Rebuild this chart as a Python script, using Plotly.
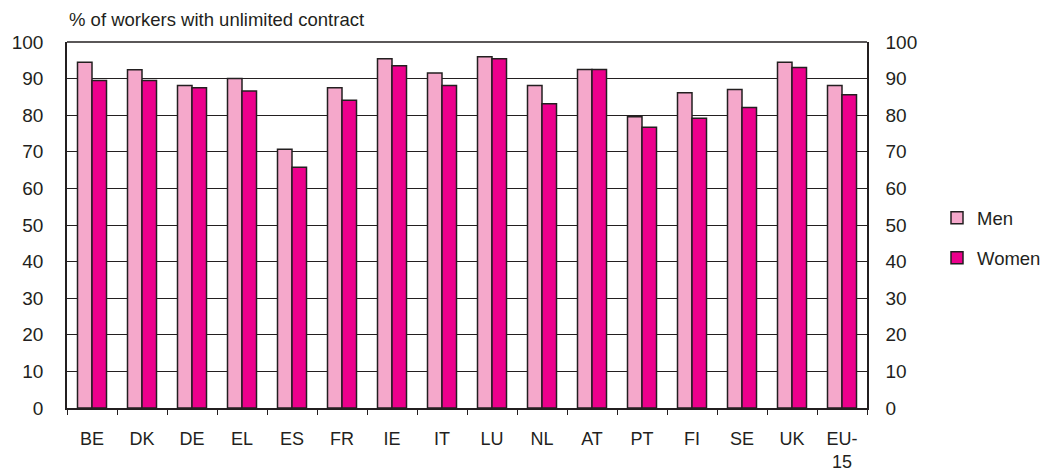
import plotly.graph_objects as go

categories = ["BE", "DK", "DE", "EL", "ES", "FR", "IE", "IT", "LU", "NL", "AT", "PT", "FI", "SE", "UK", "EU-<br>15"]
men = [94.5, 92.4, 88.1, 90.0, 70.7, 87.5, 95.4, 91.5, 96.0, 88.1, 92.5, 79.6, 86.1, 87.0, 94.5, 88.1]
women = [89.5, 89.5, 87.5, 86.6, 65.8, 84.1, 93.5, 88.1, 95.4, 83.1, 92.5, 76.7, 79.2, 82.1, 93.0, 85.6]
y_ticks = list(range(0, 101, 10))

FONT = "Liberation Sans, Arial, sans-serif"
DARK = "#231f20"

fig = go.Figure()
fig.add_trace(go.Bar(x=categories, y=men, name="Men", legendgroup="m",
                     marker=dict(color="#f5a8cb", line=dict(color=DARK, width=1.5))))
fig.add_trace(go.Bar(x=categories, y=women, name="Women", legendgroup="w",
                     marker=dict(color="#ec008c", line=dict(color=DARK, width=1.5))))
# invisible helper trace to draw the right-hand axis
fig.add_trace(go.Scatter(x=categories, y=men, yaxis="y2", mode="markers",
                         marker=dict(opacity=0, size=1), showlegend=False, hoverinfo="skip"))

# page body has an 8px default margin, so the figure is 8px smaller and offset
fig.update_layout(
    width=1040, height=466,
    margin=dict(l=59, r=181, t=34, b=66, autoexpand=False),
    paper_bgcolor="white", plot_bgcolor="white",
    font=dict(family=FONT, color=DARK),
    barmode="group", bargap=0.42, bargroupgap=0.0,
    showlegend=True,
    legend=dict(x=1.0875, y=0.464, xanchor="left", yanchor="middle",
                font=dict(size=18.5, family=FONT, color=DARK),
                tracegroupgap=13, bgcolor="rgba(0,0,0,0)"),
    xaxis=dict(type="category", range=[-0.5, 15.5], showline=True, linecolor=DARK, linewidth=2,
               ticks="outside", tickson="boundaries", ticklen=5, tickcolor=DARK, tickwidth=1.3,
               tickfont=dict(size=18, family=FONT, color=DARK), ticklabelstandoff=13,
               showgrid=False, mirror=False, automargin=False, fixedrange=True),
    yaxis=dict(range=[0, 100], tickvals=y_ticks, showgrid=True, gridcolor=DARK, gridwidth=1.4,
               showline=True, linecolor=DARK, linewidth=1.5, ticks="",
               tickfont=dict(size=19, family=FONT, color=DARK), ticklabelstandoff=18,
               zeroline=False, fixedrange=True, automargin=False),
    yaxis2=dict(range=[0, 100], tickvals=y_ticks, overlaying="y", side="right",
                showgrid=False, showline=True, linecolor=DARK, linewidth=1.5,
                ticks="inside", ticklen=5, tickcolor=DARK, tickwidth=1.3,
                tickfont=dict(size=19, family=FONT, color=DARK), ticklabelstandoff=13,
                zeroline=False, fixedrange=True, automargin=False),
    annotations=[dict(text="% of workers with unlimited contract", xref="paper", yref="paper",
                      x=0, y=1.062, xanchor="left", yanchor="middle", showarrow=False,
                      font=dict(size=18.5, family=FONT, color=DARK))],
    shapes=[dict(type="line", xref="paper", yref="paper", x0=0, x1=1, y0=1, y1=1,
                 line=dict(color=DARK, width=1.5))],
)

fig.write_html("out.html")
